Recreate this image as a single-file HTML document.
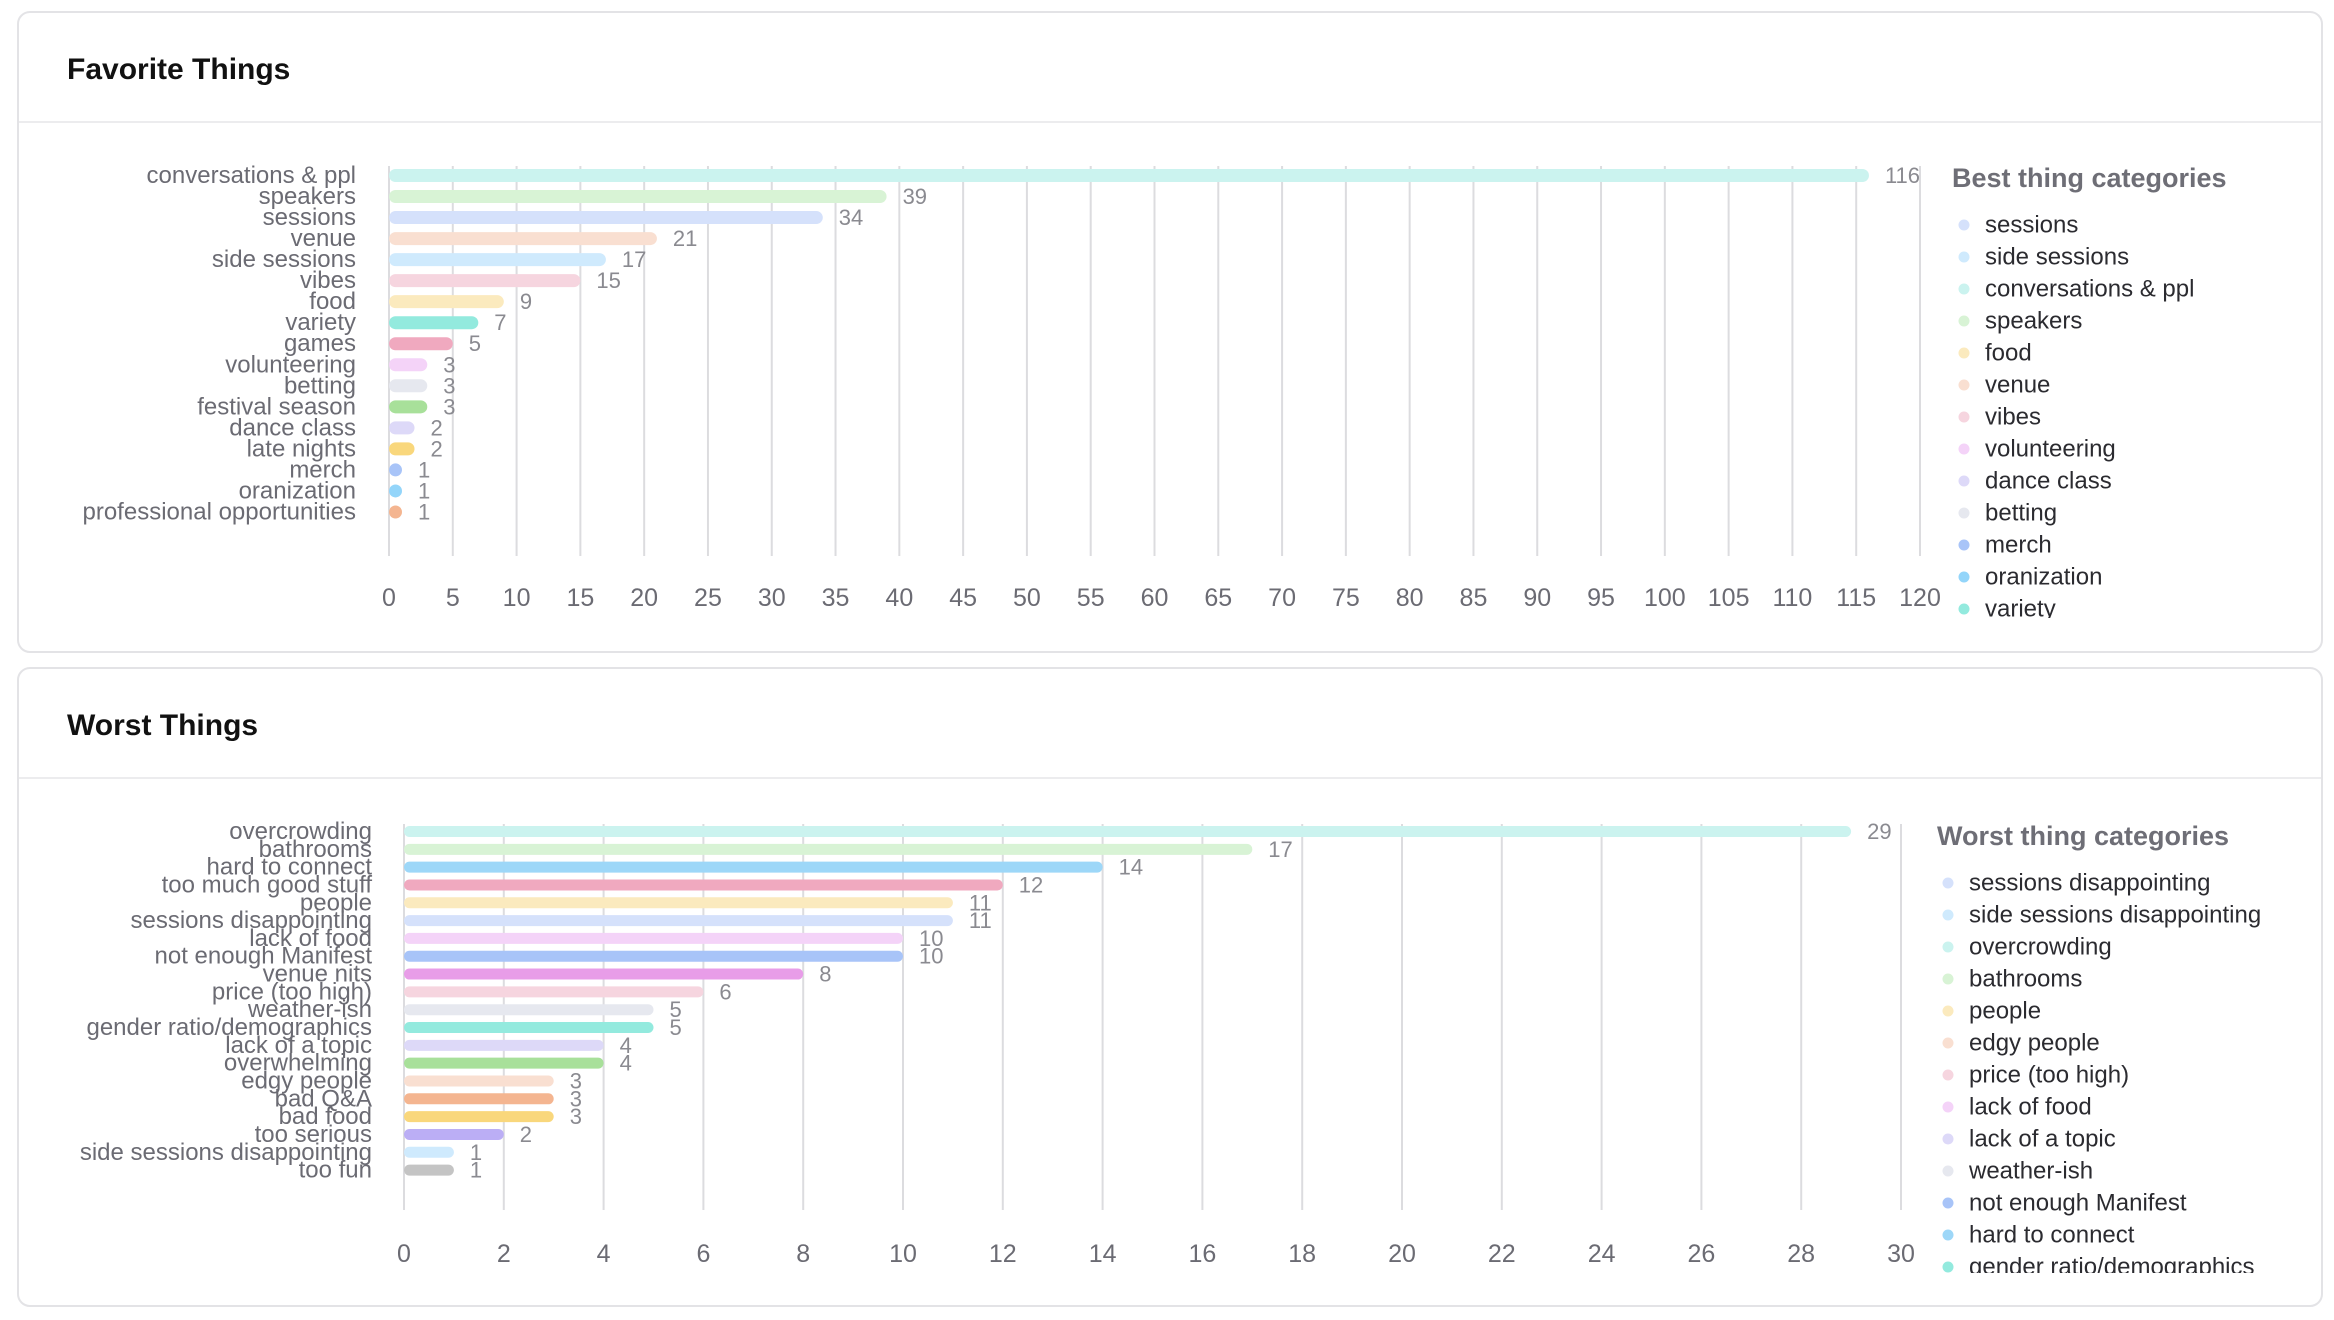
<!DOCTYPE html>
<html><head><meta charset="utf-8">
<style>
html,body{margin:0;padding:0;background:#fff;}
body{width:2334px;height:1320px;overflow:hidden;font-family:"Liberation Sans",sans-serif;}
svg{display:block;}
</style></head>
<body>
<svg id="root" width="2334" height="1320" viewBox="0 0 2334 1320" xmlns="http://www.w3.org/2000/svg">
  <defs>
    <clipPath id="clipLeg1"><rect x="1900" y="150" width="420" height="468"/></clipPath>
    <clipPath id="clipLeg2"><rect x="1900" y="800" width="420" height="473"/></clipPath>
  </defs>
  <g>
    <rect x="18" y="12" width="2304" height="640" rx="12" fill="#fff" stroke="#e3e3e6" stroke-width="2"/>
    <text x="67" y="79" font-size="30" font-weight="600" fill="#111">Favorite Things</text>
    <line x1="19" y1="122" x2="2321" y2="122" stroke="#ececee" stroke-width="2"/>
    <g id="chart1"></g>
  </g>
  <g>
    <rect x="18" y="668" width="2304" height="638" rx="12" fill="#fff" stroke="#e3e3e6" stroke-width="2"/>
    <text x="67" y="735" font-size="30" font-weight="600" fill="#111">Worst Things</text>
    <line x1="19" y1="778" x2="2321" y2="778" stroke="#ececee" stroke-width="2"/>
    <g id="chart2"></g>
  </g>
</svg>
<script>
const favCategories = ["conversations & ppl","speakers","sessions","venue","side sessions","vibes","food","variety","games","volunteering","betting","festival season","dance class","late nights","merch","oranization","professional opportunities"];
const favValues = [116,39,34,21,17,15,9,7,5,3,3,3,2,2,1,1,1];
const favColors = ["#cbf3ef","#d8f3d5","#d5e1fb","#f9dfd1","#cfeafd","#f6d5df","#fbeabe","#93eade","#f0a9bf","#f4d3f8","#e6e8ef","#a8e09a","#ddd9f8","#f9d77c","#a8c4f8","#93d5fa","#f4b590"];
const favTicks = [0,5,10,15,20,25,30,35,40,45,50,55,60,65,70,75,80,85,90,95,100,105,110,115,120];
const favLegend = ["sessions","side sessions","conversations & ppl","speakers","food","venue","vibes","volunteering","dance class","betting","merch","oranization","variety"];

const worstCategories = ["overcrowding","bathrooms","hard to connect","too much good stuff","people","sessions disappointing","lack of food","not enough Manifest","venue nits","price (too high)","weather-ish","gender ratio/demographics","lack of a topic","overwhelming","edgy people","bad Q&A","bad food","too serious","side sessions disappointing","too fun"];
const worstValues = [29,17,14,12,11,11,10,10,8,6,5,5,4,4,3,3,3,2,1,1];
const worstColors = ["#cbf3ef","#d8f3d5","#9dd7f8","#f0a9bf","#fbeabe","#d5e1fb","#f4d3f8","#a8c4f8","#e89de8","#f6d5df","#e6e8ef","#93eade","#ddd9f8","#a8e09a","#f9dfd1","#f4b590","#f9d77c","#bbaef5","#cfeafd","#c4c4c4"];
const worstTicks = [0,2,4,6,8,10,12,14,16,18,20,22,24,26,28,30];
const worstLegend = ["sessions disappointing","side sessions disappointing","overcrowding","bathrooms","people","edgy people","price (too high)","lack of food","lack of a topic","weather-ish","not enough Manifest","hard to connect","gender ratio/demographics"];

const NS = "http://www.w3.org/2000/svg";
function mk(tag, attrs, parent){ const e=document.createElementNS(NS,tag); for(const k in attrs) e.setAttribute(k,attrs[k]); parent.appendChild(e); return e; }

function drawChart(g, cfg){
  const xScale = v => cfg.x0 + (v - 0) / cfg.max * (cfg.x1 - cfg.x0);
  const yScale = i => cfg.yFirst + i * cfg.step;
  cfg.ticks.forEach(t => {
    const l = mk("line",{x1:xScale(t),x2:xScale(t),y1:cfg.gTop,y2:cfg.gBot,stroke:"#dcdcdf","stroke-width":2},g);
    
    
    const tx = mk("text",{x:xScale(t),y:cfg.tickY,"font-size":25,fill:"#6b6b73","text-anchor":"middle","dominant-baseline":"central"},g);
    tx.textContent = t;
    
    
  });
  cfg.cats.forEach((c,i) => {
    const y = yScale(i);
    const lab = mk("text",{x:cfg.labelX,y:y,"font-size":cfg.labelSize,fill:"#6b6b73","text-anchor":"end","dominant-baseline":"central"},g);
    lab.textContent = c;
    
    
    const w = Math.max(xScale(cfg.vals[i]) - cfg.x0, cfg.barH);
    const b = mk("rect",{x:cfg.x0,y:y-cfg.barH/2,width:w,height:cfg.barH,rx:cfg.barH/2,fill:cfg.colors[i]},g);
    
    
    const v = mk("text",{x:cfg.x0+w+16,y:y,"font-size":22,fill:"#8a8a90","dominant-baseline":"central"},g);
    v.textContent = cfg.vals[i];
    
    
  });
  const lg = mk("g",{"clip-path":cfg.clip},g);
  
  
  const lt = mk("text",{x:cfg.legX,y:cfg.legTitleY,"font-size":27,"font-weight":"600",fill:"#6e6e76"},g);
  lt.textContent = cfg.legTitle;
  
  
  cfg.legend.forEach((name,i) => {
    const y = cfg.legY0 + i*32;
    const idx = cfg.cats.indexOf(name);
    const d = mk("circle",{cx:cfg.dotX,cy:y,r:5.5,fill:cfg.colors[idx]},lg);
    
    
    const t = mk("text",{x:cfg.dotX+21,y:y,"font-size":24,fill:"#2b2b30","dominant-baseline":"central"},lg);
    t.textContent = name;
    
    
  });
}

drawChart(document.getElementById("chart1"),{
  cats:favCategories, vals:favValues, colors:favColors, ticks:favTicks, legend:favLegend,
  x0:389, x1:1920, max:120, yFirst:175.5, step:21.03, barH:13, gTop:166, gBot:556, tickY:598,
  labelX:356, labelSize:24, legX:1952, legTitleY:187, legTitle:"Best thing categories",
  dotX:1964, legY0:225, clip:"url(#clipLeg1)"
});
drawChart(document.getElementById("chart2"),{
  cats:worstCategories, vals:worstValues, colors:worstColors, ticks:worstTicks, legend:worstLegend,
  x0:404, x1:1901, max:30, yFirst:831.5, step:17.82, barH:11, gTop:824, gBot:1210, tickY:1254,
  labelX:372, labelSize:24, legX:1937, legTitleY:845, legTitle:"Worst thing categories",
  dotX:1948, legY0:883, clip:"url(#clipLeg2)"
});
</script>
</body></html>
